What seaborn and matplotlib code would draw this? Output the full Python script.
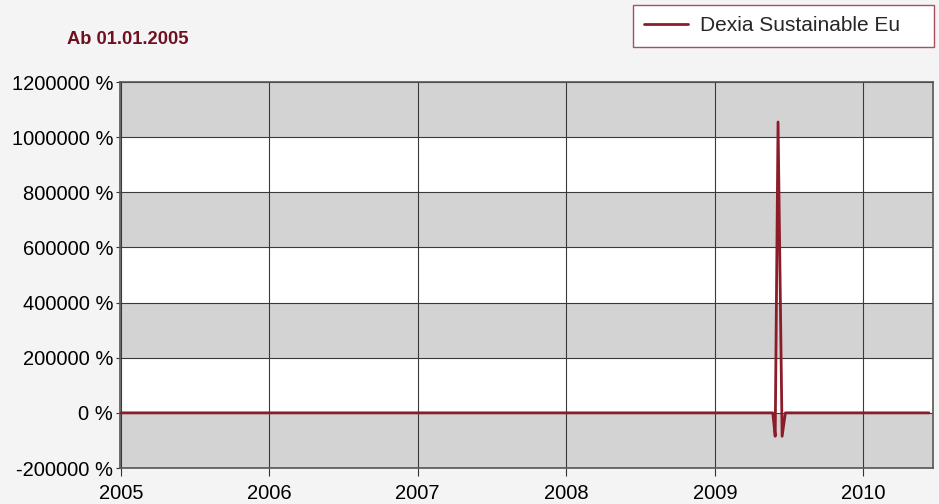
import matplotlib
matplotlib.use("Agg")
import matplotlib.pyplot as plt
import seaborn as sns
import pandas as pd

# ---- data ----
dates = ["2005-01-01", "2005-07-01", "2006-01-01", "2006-07-01", "2007-01-01",
         "2007-07-01", "2008-01-01", "2008-07-01", "2009-01-01", "2009-05-23",
         "2009-05-29", "2009-06-05", "2009-06-15", "2009-06-23", "2009-10-01",
         "2010-01-01", "2010-06-11"]
values = [0, 0, 0, 0, 0,
          0, 0, 0, 0, 0,
          -85000, 1055000, -85000, 0, 0,
          0, 0]
series_name = "Dexia Sustainable Eu"
title_text = "Ab 01.01.2005"
year_ticks = ["2005", "2006", "2007", "2008", "2009", "2010"]
y_ticks = [-200000, 0, 200000, 400000, 600000, 800000, 1000000, 1200000]

df = pd.DataFrame({"Datum": pd.to_datetime(dates), "Wert": values, "Serie": series_name})

sns.set_theme(style="white")
plt.rcParams["font.family"] = ["Liberation Sans", "DejaVu Sans"]

fig = plt.figure(figsize=(9.39, 5.04), dpi=100, facecolor="#f4f4f4")
ax = fig.add_axes([120/939, 1-468/504, (933-120)/939, (468-82)/504])
ax.set_facecolor("white")

# alternating bands
for i, (lo, hi) in enumerate(zip(y_ticks[:-1], y_ticks[1:])):
    if i % 2 == 0:
        ax.axhspan(lo, hi, color="#d3d3d3", zorder=0, lw=0)

line_color = "#8b1c28"
sns.lineplot(data=df, x="Datum", y="Wert", ax=ax, color=line_color, lw=2.0,
             label=series_name, legend=False, zorder=3)

ax.set_ylim(y_ticks[0], y_ticks[-1])
ax.set_xlim(pd.Timestamp("2004-12-30"), pd.Timestamp("2010-06-21"))
ax.set_yticks(y_ticks)
ax.set_yticklabels([f"{v} %" for v in y_ticks])
ax.set_xticks([pd.Timestamp(f"{y}-01-01") for y in year_ticks])
ax.set_xticklabels(year_ticks)
ax.set_xlabel("")
ax.set_ylabel("")

ax.grid(True, color="#3a3a3a", lw=0.8, zorder=1)
for gl in ax.get_xgridlines() + ax.get_ygridlines():
    gl.set_zorder(1)
for s in ax.spines.values():
    s.set_color("#555555")
    s.set_linewidth(1.2)

ax.tick_params(axis="both", labelsize=14.5, colors="#333333", labelcolor="black",
               width=0.8, direction="out", left=True, bottom=True)
ax.tick_params(axis="y", length=3, pad=2)
ax.tick_params(axis="x", length=6, pad=5.5)

fig.text(67/939, 1-40/504, title_text, fontsize=13.2, fontweight="bold",
         color="#6e1020", va="center", ha="left")

handles, labels = ax.get_legend_handles_labels()
leg = fig.legend(handles, labels, loc="upper left", mode="expand",
                 bbox_to_anchor=(633/939, 1-48/504, 301/939, 43/504), fontsize=15,
                 frameon=True, fancybox=False, edgecolor="#a8505c",
                 framealpha=1, facecolor="white", handlelength=2.1,
                 borderpad=0.55, handletextpad=0.55, borderaxespad=0)
leg.get_frame().set_linewidth(1.0)

fig.savefig("out.png", dpi=100, facecolor=fig.get_facecolor())
